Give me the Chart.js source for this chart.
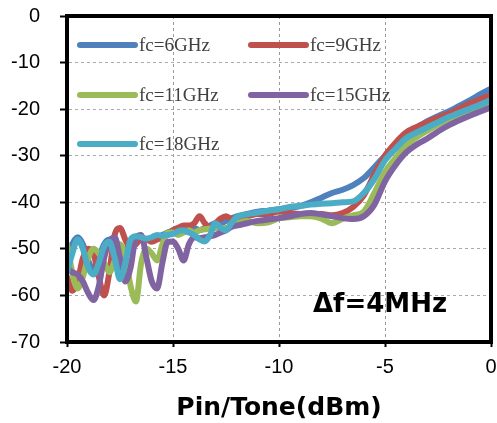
<!DOCTYPE html>
<html><head><meta charset="utf-8">
<script src="https://cdn.jsdelivr.net/npm/chart.js@4"></script>
<style>html,body{margin:0;padding:0;background:#fff}</style>
</head><body>
<canvas id="c" width="497" height="423"></canvas>
<script>
// Pin/Tone (dBm)
const pinTone = [-20,-19.75,-19.5,-19.25,-19,-18.75,-18.5,-18.25,-18,-17.75,-17.5,-17.25,-17,-16.75,-16.5,-16.25,-16,-15.75,-15.5,-15.25,-15,-14.75,-14.5,-14.25,-14,-13.75,-13.5,-13.25,-13,-12.75,-12.5,-12.25,-12,
  -11.5,-11,-10.5,-10,-9.5,-9,-8.5,-8,-7.5,-7,-6.5,-6,-5.5,-5,-4.5,-4,-3.5,-3,-2.5,-2,-1.5,-1,-0.5,0];
const fc6GHz = [-52,-49,-47.5,-49,-52.5,-54.5,-52,-49,-48,-50,-53,-51,-48.5,-47.5,-47.8,-48,-47.8,-47.5,-47,-46.5,-46,-45.5,-45.5,-45.5,-45.5,-46,-45.5,-45,-44.5,-44.5,-44,-43.5,-43,
  -42.5,-42,-41.8,-41.5,-41.2,-40.8,-40,-39,-38,-37.3,-36.3,-34.8,-32.5,-30,-27.5,-25.5,-24,-22.6,-21.5,-20.5,-19.3,-18.1,-16.8,-15.6];
const fc9GHz = [-56,-59,-57,-52,-50,-51,-56,-60,-55,-47,-45.5,-48,-50,-49,-48,-48,-48.5,-48,-47.5,-47,-46,-45.5,-45,-45,-44.5,-43,-44.5,-45.5,-44.5,-43.5,-43,-43.5,-43.5,
  -43,-42.5,-42.5,-42,-42.3,-42.5,-42.5,-42.5,-42.8,-42.3,-41,-38.5,-34,-30,-27.2,-25,-23.8,-22.8,-21.8,-21,-19.9,-18.8,-17.9,-17];
const fc11GHz = [-49,-55,-58.5,-56,-52,-50,-51,-53,-55,-52.5,-49,-52,-58,-61.3,-53,-50,-51,-52.5,-49,-46.5,-46.5,-47,-46.5,-46,-46.5,-46,-45.8,-45.6,-45.5,-45.5,-45.5,-45,-44.5,
  -44,-44.5,-44.3,-43.4,-43.2,-43,-43,-43.5,-44.5,-43.5,-42.8,-42,-38,-33.5,-30.5,-27.8,-26,-24.6,-23.3,-22.2,-21.2,-20.2,-19.2,-18.3];
const fc15GHz = [-54,-55,-55.5,-57,-59.5,-61,-58,-52,-48.5,-47.5,-52,-57,-54,-47.5,-47,-52,-57,-58.5,-53,-48.5,-48.4,-50,-52.5,-49,-47.5,-47.7,-47.5,-47.3,-47,-46.5,-46,-45.3,-45,
  -44.5,-44,-43.7,-43.4,-43,-42.5,-42.3,-42.6,-43,-43.4,-43.6,-43,-40.5,-35.5,-32,-29.3,-27.6,-26.3,-24.8,-23.5,-22.4,-21.4,-20.5,-19.6];
const fc18GHz = [-55,-51,-48,-50,-54,-55.5,-53,-49.5,-48.5,-52,-56.5,-53,-48,-47.3,-47.5,-47.8,-47.5,-47,-47.2,-47,-46.8,-46.2,-46,-46.5,-47,-48,-48.4,-47,-44.5,-45.5,-46,-44.5,-43.2,
  -42.6,-42.2,-41.8,-41.5,-41,-40.8,-40.5,-40.3,-40.2,-40,-39.8,-38,-35,-31,-28.5,-26.2,-25,-23.9,-22.8,-21.7,-20.8,-19.9,-19,-18];
const seriesLabels = ['fc=6GHz','fc=9GHz','fc=11GHz','fc=15GHz','fc=18GHz'];
const seriesValues = [fc6GHz, fc9GHz, fc11GHz, fc15GHz, fc18GHz];
const seriesColors = ['#4F81BD','#C0504D','#9BBB59','#8064A2','#4BACC6'];
const xTitle = 'Pin/Tone(dBm)';
const annotationText = 'Δf=4MHz';

const datasets = seriesLabels.map((label, k) => ({
  label,
  data: pinTone.map((x, i) => ({x, y: seriesValues[k][i]})),
  borderColor: seriesColors[k],
  backgroundColor: seriesColors[k],
  borderWidth: 6,
  pointRadius: 0,
  cubicInterpolationMode: 'monotone',
  borderJoinStyle: 'round',
  borderCapStyle: 'round',
  fill: false,
  order: seriesLabels.length - k
}));

const decor = {
  id: 'decor',
  afterDatasetsDraw(chart) {
    const {ctx, chartArea: a} = chart;
    ctx.save();
    const cols = [a.left + 13, a.left + 184];
    const rows = [a.top + 29, a.top + 79, a.top + 128];
    chart.data.datasets.forEach((ds, i) => {
      const x = cols[i % 2], y = rows[Math.floor(i / 2)];
      ctx.strokeStyle = ds.borderColor; ctx.lineWidth = 6; ctx.lineCap = 'round';
      ctx.beginPath(); ctx.moveTo(x, y); ctx.lineTo(x + 55, y); ctx.stroke();
      ctx.fillStyle = '#404040'; ctx.font = '19px "Liberation Serif"';
      ctx.textBaseline = 'middle'; ctx.textAlign = 'left';
      ctx.fillText(ds.label, x + 59, y + 1);
    });
    ctx.font = 'bold 26px "DejaVu Sans"'; ctx.fillStyle = '#000';
    ctx.textAlign = 'left'; ctx.textBaseline = 'middle';
    ctx.fillText(annotationText, a.left + 246, a.top + 289);
    ctx.strokeStyle = '#000'; ctx.lineWidth = 4;
    ctx.strokeRect(a.left, a.top, a.right - a.left, a.bottom - a.top);
    ctx.restore();
  }
};

new Chart(document.getElementById('c'), {
  type: 'line',
  data: {datasets},
  options: {
    responsive: false,
    animation: false,
    layout: {padding: {top: 16, right: 6, left: 0, bottom: 0}},
    plugins: {legend: {display: false}, tooltip: {enabled: false}},
    scales: {
      x: {
        type: 'linear', min: -20, max: 0,
        ticks: {stepSize: 5, color: '#000', font: {family: '"Liberation Sans", Arial', size: 20}, padding: 8, maxRotation: 0},
        grid: {color: '#999', lineWidth: 1, tickLength: 5, tickColor: '#000', tickWidth: 2, borderDash: [3, 3]},
        border: {display: true, color: '#000', width: 4, dash: [3, 3]},
        title: {display: true, text: xTitle, color: '#000', font: {family: '"DejaVu Sans"', size: 25, weight: 'bold'}, padding: {top: 0, bottom: 0}},
        afterFit(s) { s.height = 81; s.paddingLeft = 0; s.paddingRight = 0; }
      },
      y: {
        min: -70, max: 0,
        ticks: {stepSize: 10, color: '#000', font: {family: '"Liberation Sans", Arial', size: 20}, padding: 20},
        grid: {color: '#aaa', lineWidth: 1, tickLength: 7, tickColor: '#000', tickWidth: 2, borderDash: [3, 3]},
        border: {display: true, color: '#000', width: 4, dash: [3, 3]},
        afterFit(s) { s.width = 67; s.paddingTop = 0; s.paddingBottom = 0; }
      }
    }
  },
  plugins: [decor]
});
</script>
</body></html>
